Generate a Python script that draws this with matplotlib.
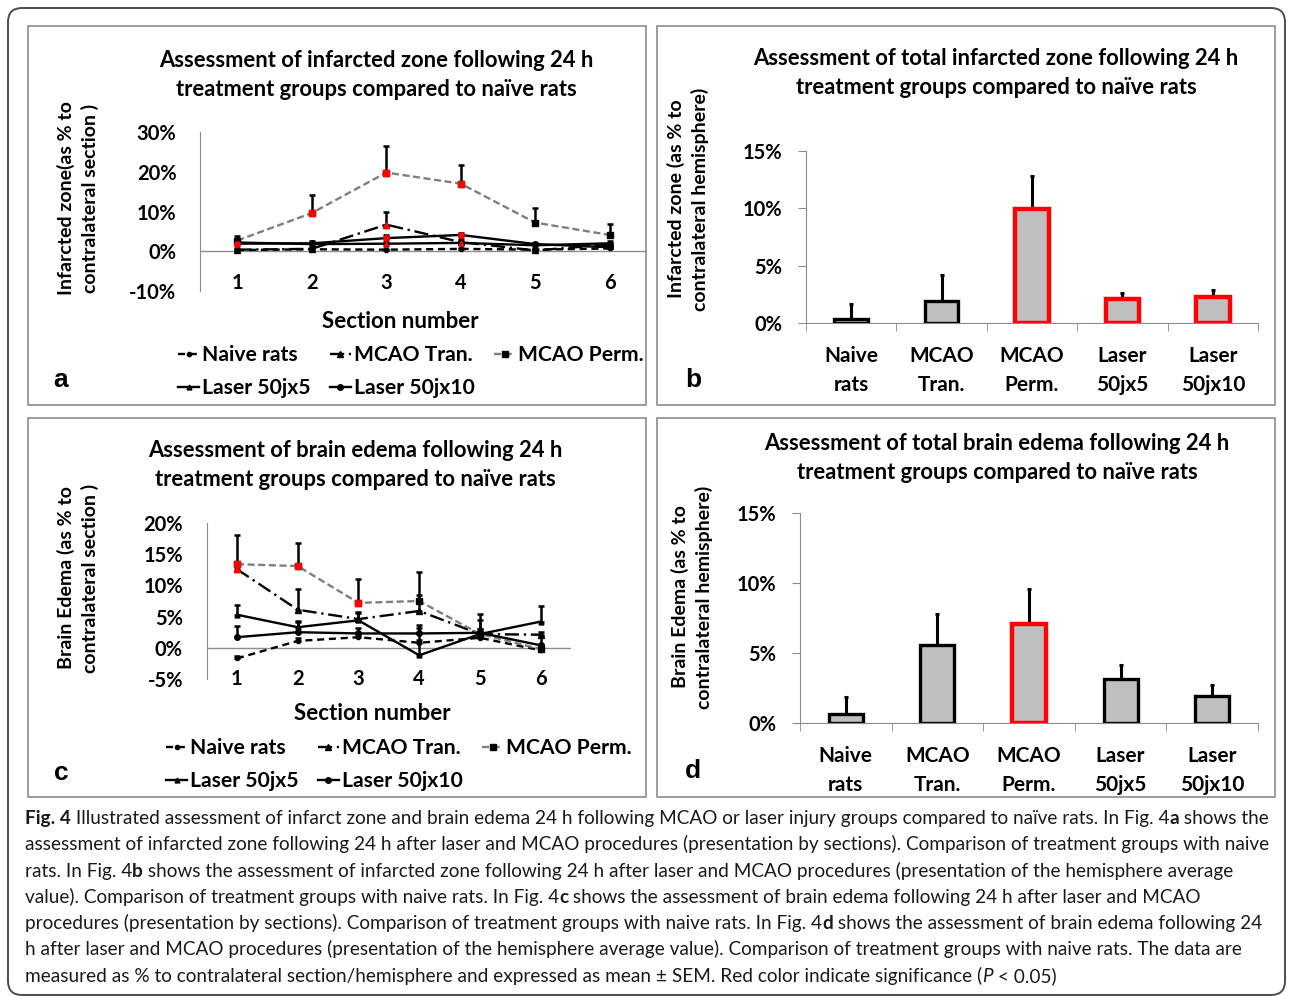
import numpy as np
import matplotlib
matplotlib.use("Agg")
import matplotlib.pyplot as plt
from matplotlib.patches import Rectangle, FancyBboxPatch
from matplotlib.transforms import IdentityTransform
from matplotlib.ticker import FuncFormatter, FixedLocator

plt.rcParams['font.family'] = ['Lato', 'DejaVu Sans']

# ---- data ----
sections = [1, 2, 3, 4, 5, 6]
series_names = ["Naive rats", "MCAO Tran.", "MCAO Perm.", "Laser 50jx5", "Laser 50jx10"]

# panel a: infarcted zone by section (%)
infarct_naive = [0.3, 0.5, 0.4, 0.6, 0.4, 0.7]
infarct_tran = [0.4, 0.6, 6.7, 2.3, 0.2, 1.7]
infarct_perm = [2.7, 9.6, 19.8, 17.0, 7.2, 4.1]
infarct_l5 = [2.2, 1.8, 1.9, 2.1, 1.5, 2.0]
infarct_l10 = [1.9, 2.0, 3.3, 4.1, 1.8, 1.0]
infarct_naive_err = [0.2, 0.2, 0.2, 0.2, 0.2, 0.2]
infarct_tran_err = [0.3, 0.4, 3.3, 0.8, 0.3, 0.5]
infarct_perm_err = [1.2, 4.6, 6.7, 4.6, 3.7, 2.8]
infarct_l5_err = [0.6, 0.5, 0.4, 0.5, 0.5, 0.6]
infarct_l10_err = [0.8, 0.6, 0.8, 0.6, 0.4, 0.4]
infarct_naive_sig = [0, 0, 0, 0, 0, 0]
infarct_tran_sig = [0, 0, 1, 0, 0, 0]
infarct_perm_sig = [0, 1, 1, 1, 0, 0]
infarct_l5_sig = [0, 0, 1, 1, 0, 0]
infarct_l10_sig = [1, 0, 1, 1, 0, 0]

# panel c: brain edema by section (%)
edema_naive = [-1.7, 1.1, 1.7, 0.8, 1.6, -0.4]
edema_tran = [12.6, 6.1, 4.6, 5.9, 2.2, 2.1]
edema_perm = [13.4, 13.1, 7.2, 7.5, 2.2, -0.2]
edema_l5 = [5.3, 3.3, 4.4, -1.2, 2.2, 4.2]
edema_l10 = [1.7, 2.5, 2.3, 2.3, 2.4, 0.4]
edema_naive_err = [0.4, 0.4, 0.4, 0.4, 0.4, 0.4]
edema_tran_err = [0.8, 3.3, 1.2, 2.6, 0.8, 0.5]
edema_perm_err = [4.6, 3.7, 3.9, 4.6, 3.2, 0.5]
edema_l5_err = [1.6, 1.0, 1.2, 4.4, 0.8, 2.5]
edema_l10_err = [1.8, 1.6, 0.9, 1.4, 2.0, 1.5]
edema_naive_sig = [0, 0, 0, 0, 0, 0]
edema_tran_sig = [1, 0, 0, 0, 0, 0]
edema_perm_sig = [1, 1, 1, 0, 0, 0]
edema_l5_sig = [0, 0, 0, 0, 0, 0]
edema_l10_sig = [0, 0, 0, 0, 0, 0]

# panels b, d: hemisphere totals (%)
groups = ["Naive\nrats", "MCAO\nTran.", "MCAO\nPerm.", "Laser\n50jx5", "Laser\n50jx10"]
total_infarct = [0.35, 1.95, 9.9, 2.05, 2.3]
total_infarct_err = [1.3, 2.2, 2.9, 0.6, 0.6]
total_infarct_sig = [0, 0, 1, 1, 1]
total_edema = [0.65, 5.6, 7.05, 3.15, 1.95]
total_edema_err = [1.2, 2.2, 2.55, 1.0, 0.8]
total_edema_sig = [0, 0, 1, 0, 0]

# ---- layout helpers (pixels of a 1292x996 image) ----
W, H = 1292, 996
fig = plt.figure(figsize=(W / 100, H / 100), dpi=100)


def rect(x0, y0, x1, y1):
    return [x0 / W, 1 - y1 / H, (x1 - x0) / W, (y1 - y0) / H]


def ftext(x, y, s, **kw):
    return fig.text(x / W, 1 - y / H, s, **kw)


AX_GRAY = '#8c8c8c'
pct = FuncFormatter(lambda v, p: f"{v:.0f}%")

styles = [
    dict(color='black', ls=(0, (3, 2)), marker='o', ms=3),
    dict(color='black', ls=(0, (6, 2, 1, 2)), marker='^', ms=4),
    dict(color='#7f7f7f', ls=(0, (3, 1.5)), marker='s', ms=5),
    dict(color='black', ls='-', marker='^', ms=3.5),
    dict(color='black', ls='-', marker='o', ms=4),
]


def line_panel(ax, values, errs, sigs, ylim, yticks, xpad, ypad):
    handles = []
    for name, y, e, s, st in zip(series_names, values, errs, sigs, styles):
        y = np.array(y)
        ax.errorbar(sections, y, yerr=[np.zeros(len(y)), e], fmt='none',
                    ecolor='black', elinewidth=1.8, capsize=2, capthick=1.8, zorder=2)
        h, = ax.plot(sections, y, color=st['color'], ls=st['ls'], lw=1.7,
                     marker=st['marker'], ms=st['ms'], mfc='black', mec='black',
                     label=name, zorder=3)
        idx = np.flatnonzero(s)
        ax.plot(np.array(sections)[idx], y[idx], ls='none', marker=st['marker'],
                ms=st['ms'], mfc='red', mec='red', zorder=4)
        handles.append(h)
    ax.axhline(0, color=AX_GRAY, lw=1, zorder=1)
    ax.set_xlim(0.5, 6.5)
    ax.set_ylim(*ylim)
    ax.set_yticks(yticks)
    ax.yaxis.set_major_formatter(pct)
    ax.set_xticks(sections)
    for sp in ['top', 'right', 'bottom']:
        ax.spines[sp].set_visible(False)
    ax.spines['left'].set_color(AX_GRAY)
    ax.tick_params(axis='y', length=0, pad=ypad, labelsize=14.5)
    ax.tick_params(axis='x', length=0, pad=xpad, labelsize=14.5)
    for lab in ax.get_xticklabels() + ax.get_yticklabels():
        lab.set_fontweight('bold')
    return handles


def bar_panel(ax, vals, errs, sigs):
    x = np.arange(len(vals))
    edge = ['red' if s else 'black' for s in sigs]
    lws = [3.2 if s else 2.4 for s in sigs]
    ax.errorbar(x, vals, yerr=[np.zeros(len(vals)), errs], fmt='none',
                ecolor='black', elinewidth=2.2, capsize=1.5, capthick=2.2, zorder=1)
    ax.bar(x, vals, width=0.37, color='#bfbfbf', edgecolor=edge, linewidth=lws, zorder=2)
    ax.set_xlim(-0.5, len(vals) - 0.5)
    ax.set_ylim(0, 15)
    ax.set_yticks([0, 5, 10, 15])
    ax.yaxis.set_major_formatter(pct)
    ax.set_xticks(x)
    ax.set_xticklabels(groups, linespacing=1.55)
    ax.xaxis.set_minor_locator(FixedLocator(np.arange(-0.5, len(vals), 1.0)))
    for sp in ['top', 'right']:
        ax.spines[sp].set_visible(False)
    ax.spines['left'].set_color(AX_GRAY)
    ax.spines['bottom'].set_color(AX_GRAY)
    ax.tick_params(axis='y', length=6, color=AX_GRAY, pad=11, labelsize=14.5)
    ax.tick_params(axis='x', which='major', length=0, pad=16.5, labelsize=15)
    ax.tick_params(axis='x', which='minor', length=6, color=AX_GRAY)
    for lab in ax.get_xticklabels() + ax.get_yticklabels():
        lab.set_fontweight('bold')


def legend(ax, handles, anchor):
    order = [0, 3, 1, 4, 2]
    leg = ax.legend([handles[i] for i in order], [series_names[i] for i in order],
                    ncol=3, loc='upper left', bbox_to_anchor=anchor,
                    bbox_transform=fig.transFigure, frameon=False,
                    handlelength=1.0, handletextpad=0.15, columnspacing=0.9,
                    labelspacing=0.62, borderpad=0, borderaxespad=0,
                    prop=dict(size=15.2, weight='bold'))
    return leg


# ---- frames ----
fig.add_artist(FancyBboxPatch((8, 1), 1277, 987, boxstyle="round,pad=0,rounding_size=14",
                              transform=IdentityTransform(), fill=False,
                              edgecolor='#4d4d4d', lw=1.4))
for (x0, y0, x1, y1) in [(28, 26, 646, 405), (657, 26, 1275, 405),
                         (28, 418, 646, 797), (657, 418, 1275, 797)]:
    fig.add_artist(Rectangle((x0, H - y1), x1 - x0, y1 - y0,
                             transform=IdentityTransform(), fill=False,
                             edgecolor='#8c8c8c', lw=1.2))

# ---- panel a ----
ax_a = fig.add_axes(rect(200, 132, 647, 291))
ha = line_panel(ax_a,
                [infarct_naive, infarct_tran, infarct_perm, infarct_l5, infarct_l10],
                [infarct_naive_err, infarct_tran_err, infarct_perm_err, infarct_l5_err, infarct_l10_err],
                [infarct_naive_sig, infarct_tran_sig, infarct_perm_sig, infarct_l5_sig, infarct_l10_sig],
                (-10, 30), [-10, 0, 10, 20, 30], xpad=-13, ypad=17)
legend(ax_a, ha, (178 / W, 1 - 345 / H))

# ---- panel c ----
ax_c = fig.add_axes(rect(206.6, 523, 571, 679))
hc = line_panel(ax_c,
                [edema_naive, edema_tran, edema_perm, edema_l5, edema_l10],
                [edema_naive_err, edema_tran_err, edema_perm_err, edema_l5_err, edema_l10_err],
                [edema_naive_sig, edema_tran_sig, edema_perm_sig, edema_l5_sig, edema_l10_sig],
                (-5, 20), [-5, 0, 5, 10, 15, 20], xpad=-7, ypad=17)
legend(ax_c, hc, (166 / W, 1 - 738 / H))

# ---- panel b ----
ax_b = fig.add_axes(rect(806, 151, 1258, 323))
bar_panel(ax_b, total_infarct, total_infarct_err, total_infarct_sig)

# ---- panel d ----
ax_d = fig.add_axes(rect(800, 513, 1258, 723))
bar_panel(ax_d, total_edema, total_edema_err, total_edema_sig)

# ---- titles, axis labels, panel letters ----
tkw = dict(ha='center', va='center', fontsize=15.8, fontweight='bold', linespacing=1.45)
ftext(376, 75, "Assessment of infarcted zone following 24 h\ntreatment groups compared to na\u00efve rats", **tkw)
ftext(996, 73, "Assessment of total infarcted zone following 24 h\ntreatment groups compared to na\u00efve rats", **tkw)
ftext(355, 465, "Assessment of brain edema following 24 h\ntreatment groups compared to na\u00efve rats", **tkw)
ftext(997, 458, "Assessment of total brain edema following 24 h\ntreatment groups compared to na\u00efve rats", **tkw)

ykw = dict(ha='center', va='center', rotation=90, fontsize=14, fontweight='bold',
           linespacing=1.4, multialignment='center')
ftext(78, 198, "Infarcted zone(as % to\ncontralateral section )", **ykw)
ftext(688, 199, "Infarcted zone (as % to\ncontralateral hemisphere)", **ykw)
ftext(78, 578, "Brain Edema (as % to\ncontralateral section )", **ykw)
ftext(692, 597, "Brain Edema (as % to\ncontralateral hemisphere)", **ykw)

ftext(400, 321, "Section number", ha='center', va='center', fontsize=16, fontweight='bold')
ftext(372, 713, "Section number", ha='center', va='center', fontsize=16, fontweight='bold')

lkw = dict(ha='center', va='center', fontsize=19, fontweight='bold', family='Liberation Sans')
ftext(61, 380, "a", **lkw)
ftext(693, 380, "b", **lkw)
ftext(61, 773, "c", **lkw)
ftext(693, 771, "d", **lkw)

# ---- caption with mixed bold / italic runs ----
caption = [
    [("Fig. 4", 'bold', 'normal'),
     (" Illustrated assessment of infarct zone and brain edema 24 h following MCAO or laser injury groups compared to na\u00efve rats. In Fig. 4", 'normal', 'normal'),
     ("a", 'bold', 'normal'), (" shows the", 'normal', 'normal')],
    [("assessment of infarcted zone following 24 h after laser and MCAO procedures (presentation by sections). Comparison of treatment groups with naive", 'normal', 'normal')],
    [("rats. In Fig. 4", 'normal', 'normal'), ("b", 'bold', 'normal'),
     (" shows the assessment of infarcted zone following 24 h after laser and MCAO procedures (presentation of the hemisphere average", 'normal', 'normal')],
    [("value). Comparison of treatment groups with naive rats. In Fig. 4", 'normal', 'normal'), ("c", 'bold', 'normal'),
     (" shows the assessment of brain edema following 24 h after laser and MCAO", 'normal', 'normal')],
    [("procedures (presentation by sections). Comparison of treatment groups with naive rats. In Fig. 4", 'normal', 'normal'),
     ("d", 'bold', 'normal'), (" shows the assessment of brain edema following 24", 'normal', 'normal')],
    [("h after laser and MCAO procedures (presentation of the hemisphere average value). Comparison of treatment groups with naive rats. The data are", 'normal', 'normal')],
    [("measured as % to contralateral section/hemisphere and expressed as mean \u00b1 SEM. Red color indicate significance (", 'normal', 'normal'),
     ("P", 'normal', 'italic'), (" < 0.05)", 'normal', 'normal')],
]
cap_y = [818, 844, 871, 897, 923, 949, 976]

renderer = fig.canvas.get_renderer()
probe = ftext(0, 0, caption[1][0][0], fontsize=12)
wprobe = probe.get_window_extent(renderer).width
probe.remove()
cap_size = 12 * 1238 / wprobe

for line, yc in zip(caption, cap_y):
    x = 25
    for s, wt, st in line:
        t = ftext(x, yc + 6, s, ha='left', va='baseline', fontsize=cap_size,
                  fontweight=wt, fontstyle=st, color='#1a1a1a')
        x += t.get_window_extent(renderer).width

fig.savefig("out.png", dpi=100)
